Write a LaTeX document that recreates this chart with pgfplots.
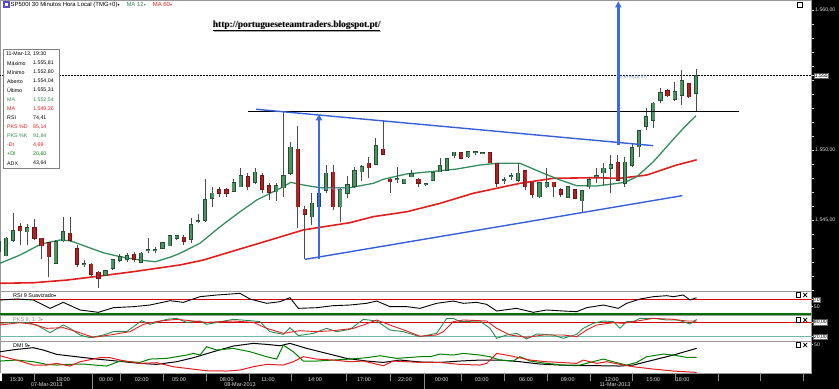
\documentclass[border=0pt]{standalone}
\usepackage{fontspec}
\setmainfont{Liberation Sans}
\newfontfamily\urlfont{Liberation Serif}
\newfontfamily\symfont{DejaVu Sans}
\usepackage{pgfplots}
\pgfplotsset{compat=1.18}
\usepackage{pgfplotstable}
\usetikzlibrary{arrows.meta}

\definecolor{cgreen}{RGB}{80,145,100}
\definecolor{cgreenD}{RGB}{35,80,50}
\definecolor{cred}{RGB}{175,35,35}
\definecolor{credD}{RGB}{110,20,20}
\definecolor{maG}{RGB}{55,140,95}
\definecolor{maR}{RGB}{225,30,30}
\definecolor{tblue}{RGB}{55,95,215}
\definecolor{ablue}{RGB}{60,105,230}
\definecolor{lblue}{RGB}{110,150,210}
\definecolor{pkK}{RGB}{40,140,80}
\definecolor{pkD}{RGB}{220,35,35}
\definecolor{teal20}{RGB}{110,185,170}
\definecolor{stripTxt}{RGB}{225,225,225}
\definecolor{iconC}{RGB}{90,70,200}

\newcommand\fs[1]{\fontsize{#1}{#1}\selectfont}
\newcommand\dn{{\symfont\fontsize{4}{4}\selectfont ▾}}

\pgfplotstableread{
i o h l c
-1 1542.74 1543.50 1542.70 1543.45
0 1542.45 1543.81 1542.40 1543.69
1 1543.57 1545.48 1543.45 1544.21
3 1544.17 1544.71 1543.21 1544.45
7 1541.90 1543.55 1541.90 1543.45
8 1543.52 1545.19 1543.40 1544.17
11 1541.82 1542.14 1541.67 1541.86
14 1541.07 1541.45 1541.00 1541.36
15 1541.55 1542.19 1541.40 1542.14
16 1542.14 1542.57 1542.02 1542.38
17 1542.19 1542.62 1542.00 1542.45
19 1541.98 1542.74 1541.98 1542.62
20 1542.84 1543.69 1542.62 1542.88
21 1542.84 1543.10 1542.62 1542.88
22 1542.98 1543.45 1542.93 1543.38
23 1543.16 1543.93 1543.14 1543.88
24 1543.69 1543.93 1543.57 1543.88
26 1543.62 1545.16 1543.38 1544.64
27 1544.91 1545.41 1544.76 1544.95
28 1545.00 1547.93 1544.88 1546.43
29 1546.55 1547.38 1545.90 1546.90
32 1547.07 1547.90 1547.00 1547.67
33 1547.38 1548.69 1547.38 1548.14
35 1547.69 1548.69 1547.55 1548.41
38 1547.02 1547.62 1546.38 1547.43
39 1547.31 1552.69 1546.67 1548.14
40 1548.33 1550.60 1548.21 1550.19
43 1545.24 1546.95 1544.64 1546.19
44 1545.95 1546.93 1545.90 1546.90
45 1547.14 1548.93 1546.93 1548.33
47 1545.95 1547.30 1544.88 1547.14
48 1546.90 1548.14 1546.55 1547.50
49 1547.43 1548.81 1547.30 1548.52
50 1548.45 1548.93 1547.79 1548.81
52 1548.98 1550.83 1548.90 1550.29
55 1547.88 1548.81 1547.62 1547.92
56 1547.62 1547.95 1547.60 1547.90
57 1548.10 1548.55 1548.05 1548.29
59 1547.53 1547.62 1547.45 1547.57
60 1547.86 1548.45 1547.80 1548.38
61 1548.45 1549.40 1548.40 1548.86
62 1548.57 1549.40 1548.57 1549.38
63 1549.60 1549.88 1549.40 1549.83
65 1549.52 1549.95 1549.45 1549.88
66 1549.81 1549.88 1549.64 1549.85
67 1549.74 1549.88 1549.70 1549.78
70 1547.84 1548.05 1547.57 1547.88
71 1548.12 1548.33 1547.86 1548.16
72 1547.86 1549.05 1547.74 1548.33
75 1546.67 1547.70 1546.60 1547.67
76 1547.38 1548.69 1547.30 1547.67
79 1546.62 1547.38 1546.55 1547.38
81 1546.38 1547.10 1545.60 1547.10
82 1547.38 1548.05 1547.20 1547.86
83 1548.12 1548.69 1547.62 1548.16
84 1548.38 1549.10 1547.50 1548.69
85 1548.69 1549.64 1546.90 1548.93
87 1547.62 1549.50 1547.38 1549.12
88 1548.93 1550.48 1548.80 1550.17
89 1550.24 1551.43 1549.52 1551.36
90 1551.71 1552.98 1551.43 1552.38
91 1552.14 1553.40 1551.55 1553.33
92 1553.57 1554.40 1553.33 1554.10
94 1553.64 1554.88 1553.50 1554.17
95 1553.93 1555.71 1553.21 1554.95
97 1554.04 1555.81 1552.80 1555.31
}\upc

\pgfplotstableread{
i o h l c
2 1544.52 1544.81 1543.21 1544.24
4 1544.45 1545.05 1543.57 1543.69
5 1543.69 1543.74 1542.19 1543.16
6 1543.38 1543.45 1540.91 1542.38
9 1544.05 1545.19 1543.45 1543.57
10 1542.93 1543.21 1541.67 1541.84
12 1541.84 1541.90 1541.00 1541.12
13 1541.26 1541.36 1540.12 1540.83
18 1542.55 1542.74 1542.02 1542.19
25 1543.76 1543.93 1543.20 1543.50
30 1547.14 1547.38 1546.67 1546.90
31 1547.14 1547.31 1546.67 1546.90
34 1548.10 1548.33 1547.14 1547.38
36 1548.14 1548.33 1546.90 1547.19
37 1547.43 1547.62 1546.43 1546.98
41 1550.05 1551.71 1544.40 1545.95
42 1545.76 1546.00 1542.19 1545.43
46 1548.41 1548.93 1545.71 1545.95
51 1549.05 1549.52 1548.02 1548.74
53 1550.05 1552.07 1549.64 1549.69
54 1547.90 1548.00 1546.95 1547.74
58 1547.90 1548.00 1547.38 1547.62
64 1549.81 1549.88 1549.40 1549.40
68 1549.81 1549.88 1549.05 1549.10
69 1549.05 1549.05 1547.38 1547.62
73 1548.50 1548.55 1547.14 1547.38
74 1547.69 1547.75 1546.55 1546.86
77 1547.69 1547.75 1546.67 1547.38
78 1547.14 1547.30 1546.67 1546.86
80 1547.14 1547.20 1546.55 1546.55
86 1549.12 1549.64 1547.80 1547.86
93 1554.24 1554.33 1553.80 1553.88
96 1554.71 1554.75 1553.69 1553.81
}\dnc

\pgfplotsset{
 candlewick/.style={only marks, mark=none, mark size=0pt, mark options={draw=none, fill=none}, forget plot, error bars/.cd, y dir=plus, y explicit, error mark=none, error bar style={draw=#1, line width=0.8bp}},
 candlebody/.style 2 args={only marks, mark=none, mark size=0pt, mark options={draw=none, fill=none}, forget plot, error bars/.cd, y dir=plus, y explicit, error mark=none, error bar style={draw=#1, line width=#2}},
 panel/.style={scale only axis, width=811bp, xmin=-0.8435, xmax=113.17, xtick=\empty, ytick pos=right, yticklabel pos=right, tick align=outside, major tick length=2bp, tick style={stripTxt, line width=0.5bp}, yticklabel style={font=\fs{5.2}, text=stripTxt, inner sep=1bp}, axis line style={draw=black!40, line width=0.7bp}, anchor=north west, clip mode=individual},
 boxlab/.style={yticklabel style={fill=white, draw=black!60, text=black, inner sep=0.7bp}},
}

\begin{document}
\begin{tikzpicture}[x=1bp,y=1bp]
\useasboundingbox (0bp,0bp) rectangle (839bp,389bp);
\fill[black] (811,0) rectangle (839,389);
\fill[black] (0,0) rectangle (839,16);

% ---------------- main price panel
\begin{axis}[
 at={(0bp,389bp)}, anchor=north west, scale only axis,
 width=811bp, height=291bp,
 xmin=-0.8435, xmax=113.17, ymin=1539.93, ymax=1560.714,
 xtick=\empty,
 ytick={1545,1550,1560}, yticklabels={{1.545,00},{1.550,00},{1.560,00}},
 minor ytick={1540,1541,...,1560},
 ytick pos=right, yticklabel pos=right, tick align=outside,
 major tick length=3bp, minor tick length=2.5bp,
 tick style={stripTxt, line width=0.5bp},
 yticklabel style={font=\fs{5.2}, text=stripTxt, inner sep=1bp},
 extra y ticks={1555.31}, extra y tick labels={{1.555,31}},
 extra y tick style={yticklabel style={fill=white, draw=black!60, text=black, inner sep=0.7bp}},
 axis line style={draw=black!40, line width=0.8bp},
 clip mode=individual,
]
% last price dotted line
\addplot[black, line width=0.7bp, dash pattern=on 0.7bp off 0.8bp] coordinates {(-1,1555.31) (114,1555.31)};
% MA 60
\addplot[maR, line width=1.6bp] coordinates {(-0.84,1540.48) (3.84,1540.52) (8.53,1540.71) (13.22,1541.00) (17.90,1541.31) (24.46,1541.79) (27.74,1542.14) (32.43,1542.86) (37.12,1543.57) (41.80,1544.29) (48.36,1544.81) (51.64,1545.24) (56.33,1545.59) (61.02,1546.19) (65.70,1546.91) (72.26,1547.62) (76.95,1547.98) (82.57,1548.02) (86.32,1547.98) (90.07,1548.21) (94.29,1548.93) (97.10,1549.30)};
% MA 12
\addplot[maG, line width=1.3bp] coordinates {(-0.84,1541.91) (1.97,1542.50) (4.96,1543.29) (7.59,1543.57) (9.04,1543.52) (11.35,1543.09) (13.68,1542.66) (16.03,1542.38) (18.84,1542.14) (20.99,1542.02) (23.06,1542.34) (24.46,1542.62) (27.27,1543.34) (30.09,1544.52) (32.90,1545.59) (35.25,1546.43) (37.58,1547.02) (38.99,1547.38) (40.03,1547.69) (41.80,1547.50) (44.14,1547.31) (48.36,1547.31) (51.64,1547.62) (53.04,1547.91) (56.33,1548.29) (59.61,1548.45) (63.36,1548.64) (66.64,1548.93) (68.99,1549.05) (72.26,1549.05) (75.54,1548.34) (77.89,1547.86) (80.23,1547.45) (83.05,1547.43) (84.92,1547.55) (87.02,1547.69) (88.67,1548.09) (91.00,1549.16) (92.89,1550.24) (95.22,1551.55) (97.00,1552.45)};
% candles
\addplot[candlewick=black!70] table[x=i, y=l, y error expr=\thisrow{h}-\thisrow{l}] {\upc};
\addplot[candlewick=black!70] table[x=i, y=l, y error expr=\thisrow{h}-\thisrow{l}] {\dnc};
\addplot[candlebody={cgreenD}{4.2bp}] table[x=i, y expr={min(\thisrow{o},\thisrow{c})-0.05}, y error expr={abs(\thisrow{c}-\thisrow{o})+0.1}] {\upc};
\addplot[candlebody={cgreen}{2.6bp}] table[x=i, y expr={min(\thisrow{o},\thisrow{c})}, y error expr={abs(\thisrow{c}-\thisrow{o})}] {\upc};
\addplot[candlebody={credD}{4.2bp}] table[x=i, y expr={min(\thisrow{o},\thisrow{c})-0.05}, y error expr={abs(\thisrow{c}-\thisrow{o})+0.1}] {\dnc};
\addplot[candlebody={cred}{2.6bp}] table[x=i, y expr={min(\thisrow{o},\thisrow{c})}, y error expr={abs(\thisrow{c}-\thisrow{o})}] {\dnc};
% resistance line
\addplot[black, line width=1.3bp] coordinates {(34.02,1552.76) (103.05,1552.76)};
% triangle
\addplot[tblue, line width=1.4bp] coordinates {(35.15,1552.91) (91.00,1550.31)};
\addplot[tblue, line width=1.4bp] coordinates {(42.04,1542.19) (95.08,1546.74)};
% measured-move arrows
\addplot[ablue, line width=2.4bp, -{Triangle[width=6bp,length=6bp]}] coordinates {(44.0,1542.21) (44.0,1552.55)};
\addplot[ablue, line width=2.4bp, -{Triangle[width=6bp,length=6bp]}] coordinates {(86.08,1550.36) (86.08,1560.62)};
\node[anchor=west, font=\fs{4.5}, text=lblue, inner sep=0pt] at (axis cs:44.4,1547.21) {0,67\%(10,37)};
\node[anchor=west, font=\fs{4.5}, text=lblue, inner sep=0pt] at (axis cs:86.3,1555.21) {0,67\%(10,37)};
\end{axis}

% ---------------- RSI
\begin{axis}[panel, at={(0bp,98bp)}, height=24bp, ymin=27.1, ymax=92.7,
 ytick={70}, yticklabels={{70,00}}, boxlab,
 extra y ticks={50}, extra y tick labels={{50,00}},
 extra y tick style={yticklabel style={fill=none, draw=none, text=stripTxt}}]
\addplot[red!85!black, line width=1.1bp] coordinates {(-1,70) (114,70)};
\addplot[green!45!black, line width=1.0bp] coordinates {(-1,31.5) (114,31.5)};
\addplot[green!45!black, line width=1.0bp] coordinates {(-1,27.9) (114,27.9)};
\addplot[black, line width=0.9bp] coordinates {(-0.84,68.1) (1.50,70.8) (3.84,68.1) (6.19,45.3) (8.06,61.7) (10.40,40.8) (12.98,34.4) (15.09,47.1) (17.90,49.9) (20.24,54.4) (23.06,66.2) (24.93,61.7) (27.27,77.2) (29.62,81.7) (32.90,86.3) (34.30,70.8) (36.65,59.0) (38.52,63.5) (39.92,74.4) (41.10,45.3) (43.67,47.1) (46.02,52.6) (48.36,54.4) (50.70,59.0) (52.11,65.3) (53.98,49.9) (56.33,49.9) (58.20,45.3) (60.54,59.0) (62.89,65.3) (64.29,59.0) (66.17,61.7) (67.57,56.2) (68.98,38.0) (71.79,45.3) (74.13,34.4) (76.01,40.8) (78.35,38.0) (80.22,36.2) (81.63,47.1) (83.97,54.4) (86.08,45.3) (87.25,59.0) (89.13,70.8) (91.00,77.2) (92.88,79.9) (93.81,77.2) (95.22,81.7) (96.16,68.1) (97.09,74.4)};
\end{axis}

% ---------------- PKS stochastic
\begin{axis}[panel, at={(0bp,74bp)}, height=26bp, ymin=2.0, ymax=110.4,
 ytick={20,80}, yticklabels={{20,00},{80,00}}, boxlab]
\addplot[red!85!black, line width=0.6bp] coordinates {(-1,80) (114,80)};
\addplot[teal20, line width=0.7bp] coordinates {(-1,20) (114,20)};
\addplot[pkK, line width=0.9bp] coordinates {(-0.84,75.7) (1.03,79.8) (2.90,79.8) (4.31,68.7) (6.19,36.7) (8.06,68.7) (9.00,54.8) (10.40,27.0) (11.81,15.9) (13.68,27.0) (15.09,40.9) (16.96,40.9) (19.07,86.8) (20.24,71.5) (22.59,92.3) (23.99,96.5) (25.40,79.8) (27.27,85.4) (28.21,71.5) (31.96,92.3) (34.30,86.8) (35.71,82.6) (37.11,40.9) (38.99,29.8) (39.92,57.6) (41.10,24.2) (43.20,33.9) (45.08,54.8) (46.49,40.9) (48.36,50.6) (50.23,92.3) (52.11,85.4) (53.98,47.9) (55.86,40.9) (58.20,20.0) (60.54,33.9) (61.95,96.5) (62.89,96.5) (63.82,82.6) (66.63,85.4) (68.04,54.8) (68.98,13.1) (70.38,27.0) (71.79,33.9) (73.20,10.3) (74.60,31.2) (76.94,27.0) (78.35,13.1) (80.22,29.8) (81.16,54.8) (82.57,75.7) (83.97,85.4) (85.38,82.6) (86.32,54.8) (87.25,82.6) (88.19,82.6) (89.13,96.5) (91.00,96.5) (92.88,89.6) (94.28,89.6) (95.22,82.6) (96.16,72.9) (97.09,91.8)};
\addplot[pkD, line width=0.9bp] coordinates {(-0.84,68.7) (1.97,78.4) (3.84,71.5) (5.72,54.8) (8.06,57.6) (9.93,40.9) (12.28,17.3) (14.62,27.0) (17.43,40.9) (19.31,71.5) (21.65,85.4) (23.99,92.3) (26.33,85.4) (28.21,79.8) (31.96,85.4) (34.77,79.8) (36.65,54.8) (38.99,33.9) (41.33,45.1) (43.67,40.9) (46.02,45.1) (48.83,54.8) (50.23,68.7) (52.11,89.6) (53.98,68.7) (56.33,43.7) (58.20,22.0) (60.54,27.0) (61.48,40.9) (62.89,82.6) (64.29,89.6) (67.57,85.4) (68.98,54.8) (70.85,27.0) (73.20,17.3) (75.54,27.0) (78.35,27.0) (80.22,20.0) (81.63,47.9) (83.04,68.7) (85.38,78.4) (86.78,75.7) (88.19,82.6) (91.00,96.5) (93.81,92.3) (95.69,85.4) (97.09,85.1)};
\end{axis}

% ---------------- DMI
\begin{axis}[panel, at={(0bp,48bp)}, height=32bp, ymin=3.63, ymax=55.47,
 ytick={50}, yticklabels={{50,00}},
 xtick={1.50,8.01,14.06,19.08,24.32,31.03,36.83,43.44,50.33,56.09,61.25,66.88,73.11,78.97,85.15,91.00,95.13},
 xticklabels={15:30,18:00,00:00,02:00,05:00,08:00,11:00,14:00,17:00,22:00,00:00,03:00,06:00,09:00,12:00,15:00,18:00},
 xtick pos=bottom, major x tick style={draw=none},
 xticklabel style={font=\fs{5.5}, text=stripTxt, anchor=center, yshift=-4.7bp, inner sep=0pt}]
\addplot[black, line width=1.0bp] coordinates {(-0.84,38.1) (1.50,41.9) (3.84,44.6) (5.25,40.8) (7.12,33.8) (9.93,30.0) (12.75,26.2) (15.56,23.0) (18.84,19.2) (21.18,17.6) (23.99,21.9) (26.33,28.4) (29.15,38.1) (31.96,47.3) (34.77,51.6) (36.65,50.0) (38.52,47.8) (39.92,51.6) (42.27,43.5) (45.08,35.4) (47.89,27.3) (50.70,23.0) (53.05,20.8) (55.39,24.6) (58.20,21.5) (61.01,20.8) (63.82,23.0) (66.63,24.6) (69.45,24.6) (72.26,21.9) (75.07,18.1) (77.88,16.5) (80.69,15.4) (83.50,15.4) (86.32,14.9) (88.19,16.5) (91.00,24.6) (93.81,32.7) (97.09,43.6)};
\addplot[green!50!black, line width=1.0bp] coordinates {(-0.84,23.0) (1.50,24.6) (3.84,21.9) (5.72,17.6) (7.12,16.5) (8.53,17.6) (10.87,18.1) (14.15,14.9) (16.03,23.0) (18.84,20.8) (20.24,26.2) (22.59,27.3) (25.40,32.7) (26.33,35.4) (27.27,32.7) (28.21,46.2) (29.62,40.8) (31.96,43.5) (34.30,38.1) (36.65,30.0) (38.05,26.2) (38.99,48.9) (40.39,38.1) (41.80,23.0) (43.67,23.0) (46.02,24.6) (48.36,26.2) (50.70,28.4) (52.58,31.6) (54.92,27.3) (58.20,30.0) (59.61,30.0) (61.01,34.3) (62.89,32.7) (64.29,35.4) (66.63,32.7) (68.04,30.0) (69.45,24.6) (71.32,23.0) (72.26,30.0) (73.66,23.0) (76.01,19.2) (78.35,16.5) (80.69,16.5) (82.10,20.8) (83.97,26.2) (85.38,21.9) (87.25,16.5) (88.66,20.8) (90.07,30.0) (92.41,34.3) (93.81,32.7) (95.69,28.9) (97.09,28.9)};
\addplot[maR, line width=1.0bp] coordinates {(-0.84,31.6) (1.97,23.0) (3.84,16.5) (5.72,16.5) (7.12,19.2) (9.00,14.9) (10.40,21.9) (13.21,28.4) (14.62,28.4) (16.03,24.6) (18.84,19.2) (21.18,20.3) (23.52,13.8) (25.40,11.1) (28.21,7.3) (31.02,6.8) (32.90,8.4) (34.77,13.8) (36.65,17.6) (38.99,16.5) (40.39,21.9) (41.80,30.0) (43.67,26.2) (46.02,24.6) (48.36,21.9) (50.23,23.0) (53.05,15.4) (54.45,23.0) (58.20,20.8) (61.01,20.8) (63.82,17.6) (66.63,16.5) (67.57,19.2) (68.98,35.4) (70.85,31.6) (73.66,24.6) (76.01,21.9) (77.88,20.8) (80.22,19.2) (81.16,24.6) (83.04,19.2) (84.44,21.9) (86.32,17.6) (88.19,13.8) (91.00,10.0) (93.81,6.8) (97.09,4.6)};
\end{axis}

% ---------------- time axis separators and dates
\foreach \sx in {34,92,120.7,163,206.7,249,291.7,346.7,390,424,461.7,504.3,547.7,590,632.3,675,718.3,760.7,803.3}
  \draw[black!45, line width=0.6bp] (\sx,16) -- (\sx,8);
\draw[black!45, line width=0.6bp] (92,8) -- (92,0);
\draw[black!45, line width=0.6bp] (424,8) -- (424,0);
\fill[white] (0,8) rectangle (2.5,16);
\node[font=\fs{5.5}, text=stripTxt, inner sep=0pt] at (46.7,4) {07-Mar-2013};
\node[font=\fs{5.5}, text=stripTxt, inner sep=0pt] at (240,4) {08-Mar-2013};
\node[font=\fs{5.5}, text=stripTxt, inner sep=0pt] at (615,4) {11-Mar-2013};

% ---------------- header
\fill[iconC] (3,381) rectangle (9.5,387.5);
\fill[white] (5,383) rectangle (7.5,385.5);
\node[anchor=west, font=\fs{6}, inner sep=0pt] at (10.5,384.2) {SP500I 30 Minutos Hora Local (TMG+0)\dn\hspace{7bp}\textcolor{maG}{MA 12\dn}\hspace{7bp}\textcolor{maR}{MA 60\dn}};
\node[font={\urlfont\bfseries\fs{9.4}}, text=black!35, inner sep=0pt] at (297.4,362.3) {\underline{http://portugueseteamtraders.blogspot.pt/}};
\node[font={\urlfont\bfseries\fs{9.4}}, inner sep=0pt] at (296.7,363) {\underline{http://portugueseteamtraders.blogspot.pt/}};
\draw[black, line width=0.6bp] (797,382) rectangle (802,387);

% ---------------- info box
\filldraw[fill=white, draw=black!50, line width=0.6bp] (3.3,339.7) rectangle (59,220.5);
\begin{scope}[every node/.style={anchor=west, font=\fs{5.3}, inner sep=0pt}]
\node at (6,335) {11-Mar-13, 19:30};
\node at (7,325.9) {Máximo};  \node at (33,325.9) {1.555,81};
\node at (7,316.8) {Mínimo};  \node at (33,316.8) {1.552,80};
\node at (7,307.7) {Aberto};  \node at (33,307.7) {1.554,04};
\node at (7,298.6) {Último};  \node at (33,298.6) {1.555,31};
\node[text=maG] at (7,289.5) {MA};  \node[text=maG] at (33,289.5) {1.552,54};
\node[text=maR] at (7,280.4) {MA};  \node[text=maR] at (33,280.4) {1.549,36};
\node at (7,271.3) {RSI};  \node at (33,271.3) {74,41};
\node[text=maR] at (7,262.2) {PKS \%D};  \node[text=maR] at (33,262.2) {85,14};
\node[text=maG] at (7,253.1) {PKS \%K};  \node[text=maG] at (33,253.1) {91,84};
\node[text=maR] at (7,244) {-DI};  \node[text=maR] at (33,244) {4,69};
\node[text=green!50!black] at (7,234.9) {+DI};  \node[text=green!50!black] at (33,234.9) {20,60};
\node at (7,225.8) {ADX};  \node at (33,225.8) {43,64};
\end{scope}

% ---------------- panel labels and icons
\node[anchor=west, font=\fs{5.5}, inner sep=0pt] at (13,93.5) {RSI 9 Suavizado\dn};
\node[anchor=west, font=\fs{5.5}, inner sep=0pt, text=black!45] at (13,69) {PKS 9; 1; 3\dn};
\node[anchor=west, font=\fs{5.5}, inner sep=0pt] at (13,43.5) {DMI 9\dn};
\foreach \iy in {94,69,44} {
  \draw[black, line width=0.6bp] (796,\iy-2.3) rectangle (800.6,\iy+2.3);
  \draw[black, line width=0.8bp] (803.2,\iy-2.2) -- (807.2,\iy+2.2);
  \draw[black, line width=0.8bp] (803.2,\iy+2.2) -- (807.2,\iy-2.2);
}
\end{tikzpicture}
\end{document}
